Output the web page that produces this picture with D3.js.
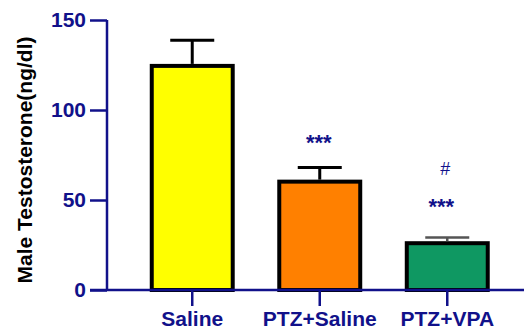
<!DOCTYPE html>
<html><head><meta charset="utf-8">
<script src="https://cdn.jsdelivr.net/npm/d3@7"></script>
<style>body{margin:0;background:#fff}svg{display:block}text{font-family:"Liberation Sans",Arial,sans-serif;font-weight:bold}</style>
</head><body><svg id="c" width="524" height="332"></svg>
<script>
const categories = ["Saline", "PTZ+Saline", "PTZ+VPA"];
const means = [124.5, 60.2, 26];
const sems = [14.2, 7.8, 3.2];
const fills = ["#ffff00", "#ff8000", "#0f9862"];
const errColors = ["#000000", "#000000", "#555555"];
const annotations = [[], ["***"], ["***", "#"]];
const yTicks = [0, 50, 100, 150];
const navy = "#11118a";

const svg = d3.select("#c");
const y = d3.scaleLinear().domain([0, 150]).range([290, 20]);
const x = d3.scaleBand().domain(categories).range([88, 551.5]).paddingInner(0.365).paddingOuter(0.5);

// bars
svg.selectAll("rect.bar").data(categories).enter().append("rect")
  .attr("x", d => x(d)).attr("width", x.bandwidth())
  .attr("y", (d, i) => y(means[i])).attr("height", (d, i) => y(0) - y(means[i]))
  .attr("fill", (d, i) => fills[i]).attr("stroke", "#000").attr("stroke-width", 4);

// error bars
categories.forEach((c, i) => {
  const cx = x(c) + x.bandwidth() / 2;
  const g = svg.append("g").attr("stroke", errColors[i]).attr("stroke-width", i === 2 ? 2.5 : 3);
  g.append("line").attr("x1", cx).attr("x2", cx).attr("y1", y(means[i]) - 2).attr("y2", y(means[i] + sems[i]));
  g.append("line").attr("x1", cx - 22).attr("x2", cx + 22).attr("y1", y(means[i] + sems[i])).attr("y2", y(means[i] + sems[i]));
});

// annotations
const annotPos = {"1-0": [-1, 150], "2-0": [-6, 214], "2-1": [-2, 174.5]};
categories.forEach((c, i) => {
  annotations[i].forEach((t, j) => {
    const p = annotPos[i + "-" + j];
    const cx = x(c) + x.bandwidth() / 2 + p[0];
    svg.append("text").attr("x", cx).attr("y", p[1])
      .attr("text-anchor", "middle").attr("fill", navy)
      .attr("font-size", t === "#" ? 18 : 22).style("font-weight", t === "#" ? "normal" : "bold").text(t);
  });
});

// y axis
const ya = svg.append("g").attr("transform", "translate(107,0)")
  .call(d3.axisLeft(y).tickValues(yTicks).tickSize(17).tickPadding(4));
ya.select(".domain").attr("stroke", navy).attr("stroke-width", 2.5).attr("d", "M0,290V20");
ya.selectAll(".tick line").attr("stroke", navy).attr("stroke-width", 2.5);
ya.selectAll(".tick text").attr("fill", navy).attr("font-size", 21)
  .style("font-family", '"Liberation Sans",Arial,sans-serif').style("font-weight", "bold");

// x axis
const xa = svg.append("g").attr("transform", "translate(0,290)")
  .call(d3.axisBottom(x).tickSize(16).tickPadding(5));
xa.select(".domain").attr("stroke", navy).attr("stroke-width", 2.5).attr("d", "M90,0H524");
xa.selectAll(".tick line").attr("stroke", navy).attr("stroke-width", 2.5);
xa.selectAll(".tick text").attr("fill", navy).attr("font-size", 21)
  .style("font-family", '"Liberation Sans",Arial,sans-serif').style("font-weight", "bold");

// y label
svg.append("text").attr("transform", "translate(32,160) rotate(-90)")
  .attr("text-anchor", "middle").attr("font-size", 21).attr("fill", "#000")
  .text("Male Testosterone(ng/dl)");
</script></body></html>
